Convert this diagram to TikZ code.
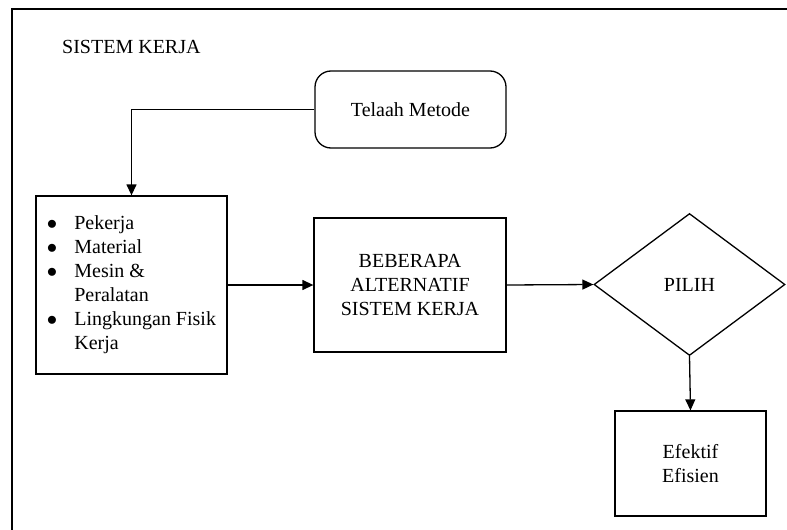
\documentclass[tikz,border=0pt]{standalone}
\usepackage{fontspec}
\setmainfont{Liberation Serif}
\usepackage{tikz}
\usetikzlibrary{arrows.meta,shapes.geometric}

\begin{document}
\begin{tikzpicture}[x=1pt, y=-1pt,
    box/.style={rectangle, draw, line width=1.3pt, align=center, inner sep=0pt, font=\fontsize{20}{24}\selectfont},
    decision/.style={diamond, draw, line width=1.3pt, inner sep=0pt, minimum width=191pt, minimum height=142pt, font=\fontsize{20}{24}\selectfont},
    arrow/.style={-{Triangle[length=11pt, width=10pt]}, line width=1.3pt},
]
\useasboundingbox (0,0) rectangle (787,530);

% Frame
\draw[line width=1.5pt] (12,530) -- (12,9) -- (787,9);
\node[anchor=west, inner sep=0pt, font=\fontsize{20}{24}\selectfont] (title) at (62,47) {SISTEM KERJA};

% Method review
\node[box, rounded corners=16pt, minimum width=191pt, minimum height=77pt] (telaah) at (410.5,109.5) {Telaah Metode};

% Input box
\node[box, minimum width=191pt, minimum height=178pt] (input) at (131.5,285) {%
  \begin{tabular}{@{}c@{\hspace{17pt}}l@{}}
  $\bullet$ & Pekerja\\
  $\bullet$ & Material\\
  $\bullet$ & Mesin \&\\
            & Peralatan\\
  $\bullet$ & Lingkungan Fisik\\
            & Kerja
  \end{tabular}};

% Alternatives
\node[box, minimum width=192pt, minimum height=134pt] (alt) at (410,285) {BEBERAPA\\ALTERNATIF\\SISTEM KERJA};

% Decision
\node[decision] (pilih) at (689.5,284.5) {PILIH};

% Result
\node[box, minimum width=151pt, minimum height=105pt] (hasil) at (690.5,463.5) {Efektif\\Efisien};

% Connectors
\draw[arrow] (telaah.west) -| (input.north);
\draw[arrow] (input.east) -- (alt.west);
\draw[arrow] (alt.east) -- (pilih.west);
\draw[arrow] (pilih.south) -- (hasil.north);
\end{tikzpicture}
\end{document}
